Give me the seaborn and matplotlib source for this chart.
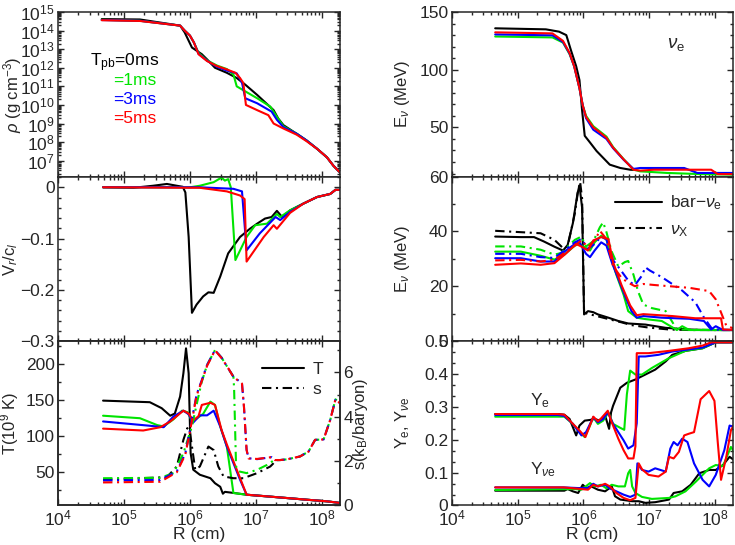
import numpy as np
import matplotlib
matplotlib.use("Agg")
import matplotlib.pyplot as plt
from matplotlib.ticker import (MultipleLocator, LogLocator, NullFormatter,
                               FixedLocator, FuncFormatter)
from matplotlib.lines import Line2D
import seaborn as sns

# values; radii are log10(R / cm)
# --- density, log10(rho) ---
rho_r0 = [4.66, 5.24, 5.85, 5.92, 6.03, 6.18, 6.26, 6.38, 6.56, 6.71, 6.84, 7.02, 7.27, 7.34, 7.42, 7.62, 7.77, 7.93, 8.08, 8.18, 8.28]
rho_0 = [14.62, 14.6, 14.27, 13.9, 13.09, 12.73, 12.45, 12.0, 11.73, 11.45, 11.09, 10.54, 9.72, 9.27, 8.91, 8.45, 8.09, 7.64, 7.18, 6.72, 6.36]
rho_r1 = [4.66, 5.24, 5.85, 5.92, 6.0, 6.06, 6.13, 6.26, 6.41, 6.56, 6.66, 6.71, 6.84, 7.02, 7.22, 7.32, 7.42, 7.62, 7.77, 7.93, 8.08, 8.18, 8.28]
rho_1 = [14.58, 14.53, 14.27, 14.0, 13.73, 13.36, 12.8, 12.4, 12.12, 11.93, 11.64, 11.0, 10.73, 10.36, 9.91, 9.36, 8.85, 8.45, 8.09, 7.64, 7.18, 6.72, 6.36]
rho_r3 = [4.66, 5.24, 5.85, 5.92, 6.0, 6.06, 6.13, 6.26, 6.41, 6.56, 6.71, 6.79, 6.84, 7.02, 7.24, 7.32, 7.42, 7.62, 7.77, 7.93, 8.08, 8.18, 8.28]
rho_3 = [14.57, 14.53, 14.27, 14.0, 13.73, 13.36, 12.75, 12.38, 12.05, 11.85, 11.7, 11.2, 10.36, 10.09, 9.64, 9.2, 8.8, 8.45, 8.09, 7.64, 7.18, 6.72, 6.36]
rho_r5 = [4.66, 5.24, 5.85, 5.92, 6.0, 6.06, 6.13, 6.26, 6.41, 6.56, 6.69, 6.76, 6.81, 6.85, 7.02, 7.19, 7.27, 7.42, 7.62, 7.77, 7.93, 8.08, 8.18, 8.28]
rho_5 = [14.56, 14.52, 14.27, 14.0, 13.73, 13.36, 12.73, 12.36, 12.09, 11.91, 11.73, 11.45, 11.18, 10.0, 9.72, 9.45, 9.0, 8.73, 8.4, 8.05, 7.64, 7.18, 6.72, 6.36]

# --- radial velocity V_r/c ---
vel_r0 = [4.68, 5.14, 5.44, 5.65, 5.80, 5.89, 5.93, 5.98, 6.03, 6.10, 6.20, 6.28, 6.36, 6.46, 6.58, 6.76, 6.91, 7.02, 7.14, 7.24, 7.32, 7.40, 7.52, 7.72, 7.93, 8.13, 8.21, 8.28]
vel_0 = [0, -0.001, 0.003, 0.0065, 0.003, 0.001, -0.01, -0.097, -0.245, -0.229, -0.213, -0.205, -0.206, -0.174, -0.129, -0.097, -0.081, -0.071, -0.061, -0.058, -0.046, -0.058, -0.045, -0.032, -0.019, -0.013, -0.005, -0.005]
vel_r1 = [4.68, 6.0, 6.15, 6.36, 6.48, 6.53, 6.58, 6.62, 6.69, 6.86, 6.99, 7.17, 7.32, 7.37, 7.52, 7.72, 7.93, 8.13, 8.21, 8.28]
vel_1 = [0, 0, 0.003, 0.01, 0.019, 0.013, 0.016, 0, -0.142, -0.097, -0.074, -0.071, -0.052, -0.058, -0.045, -0.032, -0.019, -0.013, -0.005, -0.005]
vel_r3 = [4.68, 6.15, 6.66, 6.79, 6.86, 7.06, 7.30, 7.37, 7.52, 7.72, 7.93, 8.13, 8.21, 8.28]
vel_3 = [0, 0, -0.003, -0.008, -0.123, -0.09, -0.058, -0.064, -0.048, -0.032, -0.019, -0.013, -0.005, -0.005]
vel_r5 = [4.68, 6.15, 6.56, 6.76, 6.83, 6.86, 7.12, 7.27, 7.32, 7.52, 7.72, 7.93, 8.13, 8.21, 8.28]
vel_5 = [0, -0.001, -0.008, -0.016, -0.023, -0.145, -0.097, -0.074, -0.081, -0.05, -0.032, -0.019, -0.013, -0.005, -0.005]

# --- temperature (10^9 K) ---
tem_r0 = [4.68, 5.39, 5.57, 5.70, 5.77, 5.85, 5.90, 5.94, 5.98, 6.01, 6.05, 6.15, 6.31, 6.38, 6.46, 6.50, 6.53, 6.66, 6.86, 7.17, 7.47, 7.78, 8.08, 8.28]
tem_0 = [149, 146.8, 138.5, 128, 131, 154.6, 187, 221.8, 187, 76, 52.8, 45.8, 41, 34, 29, 19.4, 22, 20.5, 18, 15.7, 13.4, 11, 8.8, 6.5]
tem_r1 = [4.68, 5.24, 5.50, 5.60, 5.75, 5.88, 5.96, 6.03, 6.10, 6.20, 6.31, 6.38, 6.46, 6.56, 6.66, 6.86, 7.17, 7.47, 7.78, 8.08, 8.28]
tem_1 = [128, 124.5, 115, 113, 123, 135, 133, 121, 124, 130.5, 147.6, 143, 113, 85, 20.4, 18, 15.7, 13.4, 11, 8.8, 6.5]
tem_r3 = [4.68, 5.39, 5.60, 5.75, 5.90, 5.98, 6.05, 6.15, 6.26, 6.36, 6.46, 6.56, 6.76, 6.86, 7.17, 7.47, 7.78, 8.08, 8.28]
tem_3 = [120, 114, 112, 127, 135, 130, 118.5, 128.5, 128.5, 135, 113, 85, 39, 18, 15.7, 13.4, 11, 8.8, 6.5]
tem_r5 = [4.68, 5.29, 5.55, 5.70, 5.90, 5.98, 6.05, 6.13, 6.18, 6.31, 6.38, 6.48, 6.56, 6.86, 7.17, 7.47, 7.78, 8.08, 8.28]
tem_5 = [110, 107.4, 112, 120, 135, 131, 121, 127.5, 143, 146, 143, 108, 88, 18, 15.7, 13.4, 11, 8.8, 6.5]

# --- entropy (k_B/baryon) ---
ent_r0 = [4.68, 5.65, 5.80, 5.90, 5.96, 6.0, 6.08, 6.15, 6.28, 6.36, 6.43, 6.51, 6.66, 6.81, 7.02, 7.22, 7.27]
ent_0 = [1.16, 1.28, 1.76, 2.96, 3.49, 3.3, 1.61, 1.76, 2.66, 2.5, 1.76, 1.31, 1.23, 1.23, 1.46, 1.76, 1.91]
ent_r1 = [4.68, 5.55, 5.75, 5.90, 6.03, 6.10, 6.18, 6.26, 6.38, 6.48, 6.58, 6.66, 6.67, 6.70, 6.74, 6.86, 7.02, 7.17, 7.27, 7.37, 7.47, 7.67, 7.80, 7.90, 8.03, 8.13, 8.21, 8.28]
ent_1 = [1.23, 1.25, 1.46, 2.36, 3.57, 4.54, 5.59, 6.34, 7.01, 6.67, 6.19, 5.81, 5.3, 1.76, 1.54, 1.46, 1.61, 1.83, 2.03, 2.05, 2.08, 2.21, 2.43, 2.96, 2.98, 3.86, 4.79, 4.61]
ent_r3 = [4.68, 5.55, 5.80, 5.93, 6.0, 6.10, 6.18, 6.26, 6.38, 6.48, 6.58, 6.66, 6.79, 6.82, 6.86, 6.89, 7.02, 7.24, 7.29, 7.37, 7.47, 7.67, 7.80, 7.90, 8.03, 8.13, 8.21, 8.28]
ent_3 = [1.13, 1.15, 1.54, 2.36, 3.4, 5.0, 5.66, 6.34, 7.01, 6.67, 6.19, 5.81, 5.51, 4.46, 2.51, 2.13, 2.09, 2.18, 2.05, 2.05, 2.08, 2.21, 2.43, 2.96, 2.98, 3.86, 4.79, 4.61]
ent_r5 = ent_r3
ent_5 = [1.04, 1.07, 1.5, 2.3, 3.35, 4.95, 5.62, 6.3, 7.0, 6.65, 6.2, 5.8, 5.5, 4.45, 2.5, 2.12, 2.1, 2.18, 2.05, 2.05, 2.08, 2.21, 2.43, 2.96, 2.98, 3.86, 4.79, 4.61]

# --- nu_e mean energy (MeV) ---
ene_r0 = [4.66, 5.43, 5.63, 5.74, 5.81, 5.89, 5.94, 5.98, 6.02, 6.10, 6.20, 6.30, 6.40, 6.56, 6.71, 6.80]
ene_0 = [135.9, 135, 133, 130, 117, 103, 91, 64.7, 42.7, 36.9, 29.5, 23.6, 17.7, 14.8, 13.3, 13.0]
ene_r1 = [4.66, 5.53, 5.69, 5.79, 5.86, 5.94, 5.99, 6.04, 6.15, 6.25, 6.35, 6.45, 6.61, 6.76, 6.86, 7.27, 7.78, 8.34]
ene_1 = [128.8, 128, 123.5, 113.5, 103, 84, 69, 60, 51, 46.5, 42, 33, 22.5, 13.5, 11.9, 10.5, 9.5, 9.0]
ene_r3 = [4.66, 5.53, 5.69, 5.79, 5.86, 5.94, 5.99, 6.04, 6.15, 6.25, 6.35, 6.45, 6.61, 6.76, 6.86, 7.53, 7.73, 8.34]
ene_3 = [130.6, 129.8, 124, 114, 103, 84, 69, 58, 48, 44, 40, 32, 22, 14, 14.8, 14.8, 10.5, 10.5]
ene_r5 = [4.66, 5.53, 5.69, 5.79, 5.86, 5.94, 5.99, 6.04, 6.15, 6.25, 6.35, 6.45, 6.61, 6.76, 6.86, 7.07, 7.53, 7.94, 8.04, 8.34]
ene_5 = [132.4, 131.5, 125, 114.5, 103, 84, 69, 59, 50, 45.7, 41, 32.5, 22.3, 13.3, 12.5, 13.3, 13.3, 13.3, 9.5, 9.5]

# --- anti-nu_e (solid) and nu_x (dash-dot) mean energy (MeV) ---
eab_r0 = [4.66, 5.05, 5.25, 5.40, 5.56, 5.69, 5.76, 5.84, 5.91, 5.94, 5.98, 6.01, 6.07, 6.15, 6.22, 6.38, 6.53, 6.68, 6.94, 7.25, 7.61, 7.91, 8.34]
eab_0 = [38.1, 37.9, 37.9, 36.3, 34.4, 33, 35, 43, 53.8, 56.8, 48.6, 9.7, 10.9, 10.5, 9.7, 8.5, 7.3, 6.4, 6.0, 4.8, 4.2, 4.0, 4.0]
eab_r1 = [4.66, 5.05, 5.35, 5.56, 5.71, 5.87, 5.94, 6.02, 6.10, 6.17, 6.27, 6.35, 6.40, 6.50, 6.61, 6.68, 6.81, 6.94, 7.19, 7.42, 7.50, 7.61, 8.34]
eab_1 = [32.6, 32.6, 31.1, 29.7, 31.5, 34.8, 35.4, 34.2, 33, 36, 38.4, 37.2, 31.8, 24.2, 16.9, 10.9, 8.5, 8.0, 7.3, 4.0, 5.4, 4.0, 4.0]
eab_r3 = [4.66, 5.05, 5.35, 5.56, 5.71, 5.87, 5.94, 6.04, 6.10, 6.17, 6.27, 6.35, 6.43, 6.53, 6.63, 6.73, 6.81, 6.91, 7.19, 7.61, 7.83, 7.94, 8.01, 8.12, 8.34]
eab_3 = [30.2, 30.2, 29, 29, 32.6, 35.4, 36, 31.8, 30.6, 33, 36, 34.8, 28.8, 22.7, 16.6, 10.9, 8.5, 9.1, 8.5, 8.1, 7.3, 4.2, 5.4, 4.0, 4.0]
eab_r5 = [4.66, 5.05, 5.35, 5.56, 5.71, 5.89, 5.99, 6.07, 6.15, 6.27, 6.38, 6.45, 6.58, 6.71, 6.81, 6.91, 7.35, 7.70, 8.09, 8.12, 8.34]
eab_5 = [27.8, 28.3, 27.8, 28.4, 31.4, 35.4, 34.2, 33, 36.7, 37.9, 37.2, 28.8, 20.3, 13, 9.4, 9.8, 9.1, 8.3, 8.3, 4.2, 4.0]
exx_r0 = [4.66, 5.05, 5.35, 5.56, 5.69, 5.76, 5.87, 5.92, 5.95, 5.98, 6.01, 6.38, 6.58, 6.73, 6.99, 7.30, 7.61, 8.34]
exx_0 = [40.2, 39.7, 39.3, 36.9, 33.9, 34.5, 46.6, 55, 58, 52, 10.3, 8, 6.8, 5.8, 4.9, 4.2, 4.0, 4.0]
exx_r1 = [4.66, 5.05, 5.35, 5.56, 5.66, 5.87, 5.97, 6.04, 6.15, 6.25, 6.30, 6.35, 6.43, 6.53, 6.63, 6.68, 6.76, 6.83, 6.91, 7.04, 7.25, 7.42, 8.34]
exx_1 = [34.5, 34.5, 33.3, 31.5, 32.1, 36.9, 38.1, 34.5, 36.4, 41.5, 43.3, 39.7, 32.6, 27.2, 28.8, 29.2, 24.2, 18.1, 13.3, 12, 10.9, 4.2, 4.0]
exx_r3 = [4.66, 5.05, 5.35, 5.56, 5.87, 5.97, 6.07, 6.17, 6.27, 6.35, 6.45, 6.55, 6.68, 6.78, 6.89, 6.94, 7.01, 7.19, 7.50, 7.70, 7.83, 7.96, 8.34]
exx_3 = [31.8, 31.8, 30.6, 30.3, 36, 37.2, 33.6, 35.4, 38.1, 37, 29.5, 26.4, 22.1, 20.3, 23.9, 26.9, 25.7, 23.3, 18.4, 14.1, 8.6, 4.2, 4.0]
exx_r5 = [4.66, 5.05, 5.35, 5.56, 5.87, 5.97, 6.07, 6.17, 6.25, 6.35, 6.45, 6.58, 6.68, 6.78, 6.91, 7.09, 7.30, 7.61, 7.91, 8.01, 8.12, 8.17, 8.34]
exx_5 = [29.4, 29.6, 29, 29.6, 34.8, 36.7, 34.2, 36.7, 40.2, 37.2, 27.3, 23, 21.3, 20, 20.8, 20.4, 20, 19.4, 18.2, 15.2, 8.6, 5.6, 4.0]

# --- electron fraction Y_e ---
ye_r0 = [4.66, 5.61, 5.71, 5.79, 5.84, 5.89, 5.94, 6.02, 6.10, 6.17, 6.25, 6.33, 6.39, 6.42, 6.45, 6.50, 6.56, 6.66, 6.79, 6.94, 7.09, 7.25, 7.35, 7.55, 7.81, 8.01, 8.34]
ye_0 = [0.278, 0.278, 0.276, 0.263, 0.238, 0.213, 0.243, 0.258, 0.26, 0.263, 0.258, 0.273, 0.233, 0.283, 0.303, 0.328, 0.358, 0.373, 0.383, 0.398, 0.413, 0.438, 0.458, 0.47, 0.478, 0.496, 0.496]
ye_r1 = [4.66, 5.61, 5.71, 5.84, 5.94, 6.02, 6.10, 6.15, 6.22, 6.30, 6.38, 6.45, 6.56, 6.62, 6.66, 6.71, 6.79, 6.89, 7.04, 7.30, 7.55, 7.81, 8.01, 8.34]
ye_1 = [0.27, 0.27, 0.27, 0.248, 0.223, 0.208, 0.243, 0.268, 0.248, 0.258, 0.283, 0.248, 0.236, 0.23, 0.338, 0.41, 0.398, 0.398, 0.418, 0.448, 0.47, 0.478, 0.496, 0.496]
ye_r3 = [4.66, 5.61, 5.71, 5.84, 5.97, 6.04, 6.15, 6.22, 6.30, 6.37, 6.45, 6.53, 6.61, 6.68, 6.76, 6.81, 6.84, 6.94, 7.14, 7.35, 7.55, 7.81, 8.01, 8.34]
ye_3 = [0.275, 0.275, 0.272, 0.248, 0.213, 0.223, 0.268, 0.253, 0.263, 0.283, 0.248, 0.223, 0.198, 0.173, 0.183, 0.25, 0.453, 0.453, 0.458, 0.468, 0.473, 0.48, 0.496, 0.496]
ye_r5 = [4.66, 5.61, 5.71, 5.84, 5.94, 6.03, 6.15, 6.22, 6.27, 6.37, 6.43, 6.53, 6.61, 6.68, 6.76, 6.79, 6.81, 6.99, 7.30, 7.60, 7.81, 7.94, 8.34]
ye_5 = [0.278, 0.278, 0.276, 0.248, 0.228, 0.208, 0.27, 0.256, 0.265, 0.288, 0.253, 0.203, 0.168, 0.143, 0.143, 0.18, 0.463, 0.463, 0.47, 0.478, 0.486, 0.496, 0.496]

# --- neutrino fraction Y_nu_e ---
yn_r0 = [4.66, 5.71, 5.76, 5.84, 5.92, 5.99, 6.04, 6.12, 6.22, 6.33, 6.43, 6.48, 6.56, 6.74, 6.84, 6.94, 7.09, 7.30, 7.37, 7.50, 7.63, 7.76, 7.91, 8.01, 8.12, 8.22, 8.32]
yn_0 = [0.045, 0.045, 0.05, 0.043, 0.038, 0.063, 0.053, 0.058, 0.048, 0.043, 0.058, 0.028, 0.018, 0.013, 0.013, 0.008, 0.01, 0.018, 0.038, 0.043, 0.063, 0.098, 0.108, 0.108, 0.123, 0.148, 0.133]
yn_r1 = [4.66, 5.87, 5.97, 6.10, 6.17, 6.27, 6.35, 6.43, 6.53, 6.63, 6.68, 6.71, 6.74, 6.79, 6.89, 7.04, 7.30, 7.40, 7.55, 7.71, 7.91, 8.01, 8.12, 8.24, 8.32]
yn_1 = [0.047, 0.05, 0.048, 0.068, 0.058, 0.063, 0.052, 0.063, 0.058, 0.058, 0.098, 0.108, 0.058, 0.038, 0.026, 0.02, 0.023, 0.028, 0.043, 0.073, 0.113, 0.123, 0.12, 0.178, 0.153]
yn_r3 = [4.66, 5.70, 5.92, 6.07, 6.15, 6.22, 6.33, 6.40, 6.50, 6.61, 6.71, 6.79, 6.82, 6.89, 6.99, 7.09, 7.25, 7.32, 7.37, 7.43, 7.50, 7.58, 7.68, 7.81, 7.91, 8.01, 8.14, 8.22, 8.27, 8.32]
yn_3 = [0.055, 0.055, 0.053, 0.053, 0.066, 0.058, 0.063, 0.052, 0.043, 0.033, 0.026, 0.033, 0.128, 0.108, 0.103, 0.113, 0.103, 0.173, 0.193, 0.183, 0.203, 0.193, 0.128, 0.078, 0.058, 0.093, 0.168, 0.243, 0.24, 0.218]
yn_r5 = [4.66, 5.70, 5.97, 6.07, 6.15, 6.22, 6.33, 6.40, 6.50, 6.61, 6.71, 6.79, 6.84, 6.89, 6.99, 7.14, 7.25, 7.30, 7.37, 7.45, 7.53, 7.60, 7.68, 7.78, 7.91, 7.99, 8.04, 8.09, 8.17, 8.24, 8.32]
yn_5 = [0.055, 0.055, 0.05, 0.048, 0.063, 0.058, 0.066, 0.058, 0.038, 0.023, 0.016, 0.023, 0.128, 0.11, 0.093, 0.088, 0.103, 0.148, 0.143, 0.163, 0.213, 0.218, 0.223, 0.323, 0.348, 0.318, 0.193, 0.078, 0.148, 0.228, 0.258]

times = ["0ms", "1ms", "3ms", "5ms"]
colors = ["black", "#00e400", "#0000ff", "#ff0000"]

sns.set_style("ticks")
plt.rcParams["font.family"] = ["Liberation Sans", "DejaVu Sans"]
plt.rcParams["mathtext.fontset"] = "custom"
plt.rcParams["mathtext.rm"] = "Liberation Sans"
plt.rcParams["mathtext.it"] = "Liberation Sans:italic"
plt.rcParams["mathtext.bf"] = "Liberation Sans:bold"
plt.rcParams["axes.linewidth"] = 1.1

DASHDOT = (0, (4.5, 2.2, 1.0, 2.2))
TICK_FS = 12.5
LAB_FS = 12


def draw(ax, lr, val, color, ls="-", logy=False):
    x = np.power(10.0, np.asarray(lr))
    y = np.power(10.0, np.asarray(val)) if logy else np.asarray(val)
    sns.lineplot(x=x, y=y, ax=ax, color=color, linestyle=ls, lw=1.5,
                 sort=False, estimator=None, legend=False)


def plain(v, pos):
    if abs(v) < 1e-9:
        return "0"
    return f"{v:g}".replace("-", "\u2212")


def style(ax, bottom=False):
    ax.set_xscale("log")
    ax.set_xlim(1e4, 1.9e8)
    ax.xaxis.set_major_locator(LogLocator(base=10, numticks=12))
    ax.xaxis.set_minor_locator(LogLocator(base=10, subs=np.arange(2, 10), numticks=12))
    ax.xaxis.set_minor_formatter(NullFormatter())
    ax.tick_params(which="both", direction="in", top=True, right=True,
                   labelsize=TICK_FS, width=1.0, pad=2.5)
    ax.tick_params(which="major", length=4)
    ax.tick_params(which="minor", length=2.2)
    if bottom:
        ax.set_xlabel("R (cm)", fontsize=TICK_FS, labelpad=-1)
    else:
        ax.tick_params(axis="x", labelbottom=False)
    ax.set_ylabel("")


fig = plt.figure(figsize=(7.35, 5.45), dpi=100)
W = 0.3833
H = 0.3018
LX, RX = 0.0793, 0.6146
B0, B1, B2 = 0.0725, 0.0725 + H, 0.0725 + 2 * H

ax_rho = fig.add_axes([LX, B2, W, H])
ax_vel = fig.add_axes([LX, B1, W, H])
ax_tem = fig.add_axes([LX, B0, W, H])
ax_ene = fig.add_axes([RX, B2, W, H])
ax_eab = fig.add_axes([RX, B1, W, H])
ax_ye = fig.add_axes([RX, B0, W, H])
ax_ent = ax_tem.twinx()

rho_sets = [(rho_r0, rho_0), (rho_r1, rho_1), (rho_r3, rho_3), (rho_r5, rho_5)]
vel_sets = [(vel_r0, vel_0), (vel_r1, vel_1), (vel_r3, vel_3), (vel_r5, vel_5)]
tem_sets = [(tem_r0, tem_0), (tem_r1, tem_1), (tem_r3, tem_3), (tem_r5, tem_5)]
ent_sets = [(ent_r0, ent_0), (ent_r1, ent_1), (ent_r3, ent_3), (ent_r5, ent_5)]
ene_sets = [(ene_r0, ene_0), (ene_r1, ene_1), (ene_r3, ene_3), (ene_r5, ene_5)]
eab_sets = [(eab_r0, eab_0), (eab_r1, eab_1), (eab_r3, eab_3), (eab_r5, eab_5)]
exx_sets = [(exx_r0, exx_0), (exx_r1, exx_1), (exx_r3, exx_3), (exx_r5, exx_5)]
ye_sets = [(ye_r0, ye_0), (ye_r1, ye_1), (ye_r3, ye_3), (ye_r5, ye_5)]
yn_sets = [(yn_r0, yn_0), (yn_r1, yn_1), (yn_r3, yn_3), (yn_r5, yn_5)]

for i, c in enumerate(colors):
    draw(ax_rho, *rho_sets[i], c, logy=True)
    draw(ax_vel, *vel_sets[i], c)
    draw(ax_tem, *tem_sets[i], c)
    draw(ax_ent, *ent_sets[i], c, ls=DASHDOT)
    draw(ax_ene, *ene_sets[i], c)
    draw(ax_eab, *exx_sets[i], c, ls=DASHDOT)
    draw(ax_eab, *eab_sets[i], c)
    draw(ax_ye, *ye_sets[i], c)
    draw(ax_ye, *yn_sets[i], c)

# density panel
style(ax_rho)
ax_rho.set_yscale("log")
ax_rho.set_ylim(1.4e6, 1e15)
ax_rho.yaxis.set_major_locator(FixedLocator([10.0 ** k for k in range(7, 16)]))
ax_rho.yaxis.set_minor_locator(LogLocator(base=10, subs=np.arange(2, 10), numticks=20))
ax_rho.yaxis.set_minor_formatter(NullFormatter())
ax_rho.set_ylabel(r"$\rho$ (g cm$^{-3}$)", fontsize=LAB_FS)
ax_rho.yaxis.set_label_coords(-0.122, 0.5)
ax_rho.text(0.113, 0.695, r"T$_\mathrm{pb}$=0ms", color=colors[0], fontsize=12.5,
            transform=ax_rho.transAxes, va="center")
for k, (lab, yy) in enumerate(zip(times[1:], [0.585, 0.47, 0.355])):
    ax_rho.text(0.195, yy, "=" + lab, color=colors[k + 1], fontsize=12.5,
                transform=ax_rho.transAxes, va="center")

# velocity panel
style(ax_vel)
ax_vel.set_ylim(-0.3, 0.021)
ax_vel.yaxis.set_major_locator(MultipleLocator(0.1))
ax_vel.yaxis.set_minor_locator(MultipleLocator(0.02))
ax_vel.yaxis.set_major_formatter(FuncFormatter(plain))
ax_vel.set_ylabel(r"V$_r$/c$_l$", fontsize=LAB_FS)
ax_vel.yaxis.set_label_coords(-0.137, 0.5)

# temperature / entropy panel
style(ax_tem, bottom=True)
ax_tem.set_ylim(3, 232)
ax_tem.yaxis.set_major_locator(MultipleLocator(50))
ax_tem.yaxis.set_minor_locator(MultipleLocator(25))
ax_tem.tick_params(right=False, which="both")
ax_tem.set_ylabel(r"T(10$^9$ K)", fontsize=LAB_FS)
ax_tem.yaxis.set_label_coords(-0.132, 0.5)
ax_ent.set_ylim(0, 7.42)
ax_ent.yaxis.set_major_locator(MultipleLocator(2))
ax_ent.yaxis.set_minor_locator(MultipleLocator(1))
ax_ent.tick_params(which="both", direction="in", labelsize=TICK_FS, width=1.0, pad=2.5)
ax_ent.tick_params(which="major", length=4)
ax_ent.tick_params(which="minor", length=2.2)
ax_ent.set_ylabel(r"s(k$_\mathrm{B}$/baryon)", fontsize=LAB_FS)
ax_ent.yaxis.set_label_coords(1.039, 0.5)
ax_ent.legend(handles=[Line2D([], [], color="black", lw=1.5),
                       Line2D([], [], color="black", lw=1.5, ls=DASHDOT)],
              labels=["T", "s"], frameon=False, fontsize=12.5, handlelength=2.4,
              handletextpad=0.5, borderpad=0, borderaxespad=0,
              loc="upper left", bbox_to_anchor=(0.723, 0.875), labelspacing=0.3)

# nu_e energy panel
style(ax_ene)
ax_ene.set_ylim(7.4, 150)
ax_ene.yaxis.set_major_locator(FixedLocator([50, 100, 150]))
ax_ene.yaxis.set_minor_locator(MultipleLocator(10))
ax_ene.set_ylabel(r"E$_\nu$ (MeV)", fontsize=LAB_FS)
ax_ene.yaxis.set_label_coords(-0.141, 0.5)
ax_ene.text(0.765, 0.80, r"$\nu_\mathrm{e}$", fontsize=13.5, transform=ax_ene.transAxes, va="center")

# anti-nu_e / nu_x energy panel
style(ax_eab)
ax_eab.set_ylim(0, 60)
ax_eab.yaxis.set_major_locator(MultipleLocator(20))
ax_eab.yaxis.set_minor_locator(MultipleLocator(10))
ax_eab.yaxis.set_major_formatter(FuncFormatter(plain))
ax_eab.set_ylabel(r"E$_\nu$ (MeV)", fontsize=LAB_FS)
ax_eab.yaxis.set_label_coords(-0.141, 0.5)
ax_eab.legend(handles=[Line2D([], [], color="black", lw=1.5),
                       Line2D([], [], color="black", lw=1.5, ls=DASHDOT)],
              labels=["bar\u2212" + r"$\nu_\mathrm{e}$", r"$\nu_\mathrm{X}$"],
              frameon=False, fontsize=12.5, handlelength=2.7, handletextpad=0.45,
              borderpad=0, borderaxespad=0,
              loc="upper left", bbox_to_anchor=(0.58, 0.895), labelspacing=0.55)

# electron / neutrino fraction panel
style(ax_ye, bottom=True)
ax_ye.set_ylim(0, 0.5)
ax_ye.yaxis.set_major_locator(MultipleLocator(0.1))
ax_ye.yaxis.set_minor_locator(MultipleLocator(0.1 / 3))
ax_ye.yaxis.set_major_formatter(FuncFormatter(plain))
ax_ye.set_ylabel(r"Y$_\mathrm{e}$, Y$_{\nu \mathrm{e}}$", fontsize=LAB_FS)
ax_ye.yaxis.set_label_coords(-0.141, 0.5)
ax_ye.text(0.278, 0.64, r"Y$_\mathrm{e}$", fontsize=12.5, transform=ax_ye.transAxes, va="center")
ax_ye.text(0.278, 0.215, r"Y$_{\nu \mathrm{e}}$", fontsize=12.5, transform=ax_ye.transAxes, va="center")

fig.savefig("out.png", dpi=100)
